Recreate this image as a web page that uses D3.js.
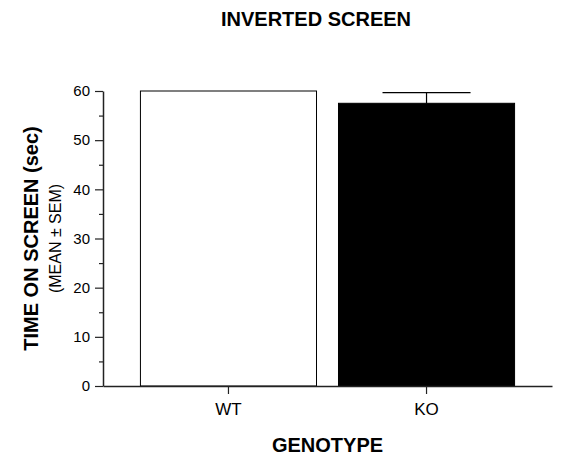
<!DOCTYPE html>
<html>
<head>
<meta charset="utf-8">
<script src="https://cdn.jsdelivr.net/npm/d3@7"></script>
<style>
  html, body { margin: 0; padding: 0; background: #fff; }
  text { font-family: "Liberation Sans", Arial, Helvetica, sans-serif; fill: #000; }
</style>
</head>
<body>
<svg id="chart" width="561" height="459"></svg>
<script>
const categories = ["WT", "KO"];
const means = [60, 57.5];
const sems = [0, 2.15];
const fills = ["#ffffff", "#000000"];
const yTicks = [0, 10, 20, 30, 40, 50, 60];
const yMinorTicks = [5, 15, 25, 35, 45, 55];

const svg = d3.select("#chart");
const mLeft = 103, mRight = 552, mTop = 91, mBottom = 386;

const x = d3.scaleBand().domain(categories).range([mLeft, mRight])
  .paddingInner(0.111).paddingOuter(0.189);
const y = d3.scaleLinear().domain([0, 60]).range([mBottom, mTop]);

const data = categories.map((c, i) => ({ c, m: means[i], s: sems[i], f: fills[i] }));

// bars
svg.selectAll("rect.bar").data(data).enter().append("rect")
  .attr("class", "bar")
  .attr("x", d => x(d.c))
  .attr("width", x.bandwidth())
  .attr("y", d => y(d.m))
  .attr("height", d => y(0) - y(d.m))
  .attr("fill", d => d.f)
  .attr("stroke", "#000")
  .attr("stroke-width", 1);

// error bars (upper only)
const eb = svg.selectAll("g.err").data(data.filter(d => d.s > 0)).enter().append("g");
eb.append("line")
  .attr("x1", d => x(d.c) + x.bandwidth() / 2)
  .attr("x2", d => x(d.c) + x.bandwidth() / 2)
  .attr("y1", d => y(d.m))
  .attr("y2", d => y(d.m + d.s))
  .attr("stroke", "#000").attr("stroke-width", 1.2);
eb.append("line")
  .attr("x1", d => x(d.c) + x.bandwidth() / 4)
  .attr("x2", d => x(d.c) + x.bandwidth() * 3 / 4)
  .attr("y1", d => y(d.m + d.s))
  .attr("y2", d => y(d.m + d.s))
  .attr("stroke", "#000").attr("stroke-width", 1.2);

// y axis
const yAxis = svg.append("g").attr("transform", `translate(${mLeft},0)`)
  .call(d3.axisLeft(y).tickValues(yTicks).tickSizeInner(8).tickSizeOuter(0).tickPadding(5));
yAxis.selectAll("text").style("font-size", "15px").attr("fill", "#000");
yAxis.selectAll("line").attr("stroke", "#222").attr("stroke-width", 1.2);
yAxis.select(".domain").attr("stroke", "#222").attr("stroke-width", 1.5);
const yMinor = svg.append("g").attr("transform", `translate(${mLeft},0)`)
  .call(d3.axisLeft(y).tickValues(yMinorTicks).tickSize(4).tickFormat(""));
yMinor.select(".domain").remove();
yMinor.selectAll("line").attr("stroke", "#222").attr("stroke-width", 1.2);

// x axis
const xAxis = svg.append("g").attr("transform", `translate(0,${mBottom})`)
  .call(d3.axisBottom(x).tickSizeInner(8).tickSizeOuter(0).tickPadding(9));
xAxis.selectAll("text").style("font-size", "17px").attr("fill", "#000");
xAxis.selectAll("line").attr("stroke", "#222").attr("stroke-width", 1.2);
xAxis.select(".domain").attr("stroke", "#222").attr("stroke-width", 1.5);

// titles
svg.append("text").attr("x", 316).attr("y", 26).attr("text-anchor", "middle")
  .style("font-size", "20px").style("font-weight", "bold").text("INVERTED SCREEN");
svg.append("text").attr("x", (mLeft + mRight) / 2).attr("y", 452).attr("text-anchor", "middle")
  .style("font-size", "20px").style("font-weight", "bold").text("GENOTYPE");
svg.append("text").attr("transform", `translate(38,${(mTop + mBottom) / 2}) rotate(-90)`)
  .attr("text-anchor", "middle")
  .style("font-size", "20px").style("font-weight", "bold").text("TIME ON SCREEN (sec)");
svg.append("text").attr("transform", `translate(61,${(mTop + mBottom) / 2}) rotate(-90)`)
  .attr("text-anchor", "middle")
  .style("font-size", "16px").text("(MEAN ± SEM)");
</script>
</body>
</html>
